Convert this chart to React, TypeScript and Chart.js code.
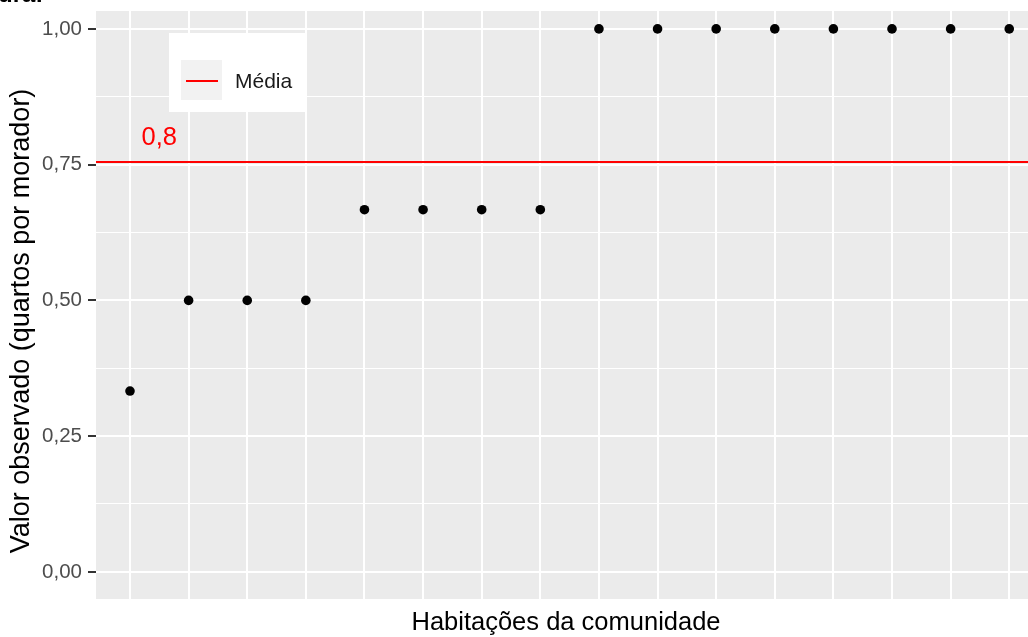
import React, { useEffect, useRef } from "react";
import { Chart, registerables } from "chart.js";

Chart.register(...registerables);

// ---- data ----
const houseIndex: number[] = [0, 1, 2, 3, 4, 5, 6, 7, 8, 9, 10, 11, 12, 13, 14, 15];
const observedValues: number[] = [
  0.333, 0.5, 0.5, 0.5, 0.667, 0.667, 0.667, 0.667, 1, 1, 1, 1, 1, 1, 1, 1,
];
const meanValue = 0.755;
const meanLabel = "0,8";
const meanLabelPos = { x: 0.5, y: 0.8 };
const yMajorTicks: number[] = [0, 0.25, 0.5, 0.75, 1];
const yAllTicks: number[] = [0, 0.125, 0.25, 0.375, 0.5, 0.625, 0.75, 0.875, 1];
const X_MIN = -0.58;
const X_MAX = 15.32;
const Y_MIN = -0.05;
const Y_MAX = 1.033;
const xTitle = "Habitações da comunidade";
const yTitle = "Valor observado (quartos por morador)";
const legendLabel = "Média";
const clippedHeading = "ura:";

const FONT = "'Liberation Sans', Arial, sans-serif";
const RED = "#ff0000";
const PANEL = "#ebebeb";

const isMajor = (v: number) => yMajorTicks.some((m) => Math.abs(m - v) < 1e-9);

const zeroPad = (s: any) => {
  s.paddingTop = 0;
  s.paddingBottom = 0;
  s.paddingLeft = 0;
  s.paddingRight = 0;
};

const decorPlugin = {
  id: "decor",
  beforeDraw(chart: any) {
    const { ctx, chartArea } = chart;
    ctx.save();
    ctx.fillStyle = "#ffffff";
    ctx.fillRect(0, 0, chart.width, chart.height);
    ctx.fillStyle = PANEL;
    ctx.fillRect(chartArea.left, chartArea.top, chartArea.right - chartArea.left, chartArea.bottom - chartArea.top);
    ctx.restore();
  },
  afterDatasetsDraw(chart: any) {
    const { ctx, scales } = chart;
    ctx.save();
    // mean label
    ctx.fillStyle = RED;
    ctx.font = `25.5px ${FONT}`;
    ctx.textAlign = "center";
    ctx.textBaseline = "middle";
    ctx.fillText(meanLabel, scales.x.getPixelForValue(meanLabelPos.x), scales.y.getPixelForValue(meanLabelPos.y));
    // legend box
    ctx.fillStyle = "#ffffff";
    ctx.fillRect(169, 33, 138, 79);
    ctx.fillStyle = "#f2f2f2";
    ctx.fillRect(181, 60, 41, 40);
    ctx.strokeStyle = RED;
    ctx.lineWidth = 2;
    ctx.beginPath();
    ctx.moveTo(186, 81);
    ctx.lineTo(218, 81);
    ctx.stroke();
    ctx.fillStyle = "#1a1a1a";
    ctx.font = `21px ${FONT}`;
    ctx.textAlign = "left";
    ctx.textBaseline = "middle";
    ctx.fillText(legendLabel, 235, 82);
    // axis titles
    ctx.fillStyle = "#000000";
    ctx.font = `25.5px ${FONT}`;
    ctx.textAlign = "center";
    ctx.textBaseline = "alphabetic";
    ctx.fillText(xTitle, 566, 630);
    ctx.save();
    ctx.translate(29, 321);
    ctx.rotate(-Math.PI / 2);
    ctx.font = `27px ${FONT}`;
    ctx.fillText(yTitle, 0, 0);
    ctx.restore();
    // clipped heading at top-left
    ctx.fillStyle = "#000000";
    ctx.font = `bold 24px ${FONT}`;
    ctx.textAlign = "left";
    ctx.textBaseline = "alphabetic";
    ctx.fillText(clippedHeading, -2, 1.5);
    ctx.restore();
  },
};

export default function App() {
  const ref = useRef<HTMLCanvasElement>(null);
  useEffect(() => {
    if (!ref.current) return;
    const chart = new Chart(ref.current, {
      type: "scatter",
      data: {
        datasets: [
          {
            type: "line",
            label: legendLabel,
            data: [
              { x: X_MIN, y: meanValue },
              { x: X_MAX, y: meanValue },
            ],
            borderColor: RED,
            borderWidth: 2,
            pointRadius: 0,
            order: 2,
          } as any,
          {
            type: "scatter",
            label: "obs",
            data: houseIndex.map((x, i) => ({ x, y: observedValues[i] })),
            backgroundColor: "#000000",
            borderColor: "#000000",
            pointRadius: 4.8,
            borderWidth: 0,
            order: 1,
          },
        ],
      },
      options: {
        responsive: false,
        animation: false,
        devicePixelRatio: 1,
        layout: { autoPadding: false, padding: { top: 11, right: 0, left: 0, bottom: 0 } },
        plugins: { legend: { display: false }, tooltip: { enabled: false } },
        scales: {
          x: {
            type: "linear",
            min: X_MIN,
            max: X_MAX,
            afterBuildTicks: (s: any) => {
              s.ticks = houseIndex.map((v) => ({ value: v }));
            },
            afterFit: (s: any) => {
              s.height = 38;
              zeroPad(s);
            },
            grid: { color: "#ffffff", lineWidth: 2, drawTicks: false },
            border: { display: false },
            ticks: { display: false },
            title: { display: false },
          },
          y: {
            type: "linear",
            min: Y_MIN,
            max: Y_MAX,
            afterBuildTicks: (s: any) => {
              s.ticks = yAllTicks.map((v) => ({ value: v }));
            },
            afterFit: (s: any) => {
              s.width = 96;
              zeroPad(s);
            },
            grid: {
              color: "#ffffff",
              lineWidth: (c: any) => (isMajor(c.tick?.value ?? 0) ? 2 : 1),
              tickColor: (c: any) => (isMajor(c.tick?.value ?? 0) ? "#333333" : "rgba(0,0,0,0)"),
              tickWidth: 2,
              tickLength: 8,
            },
            border: { display: false },
            ticks: {
              padding: 6,
              color: "#4d4d4d",
              font: { size: 20.5, family: FONT },
              callback: (v: any) => (isMajor(Number(v)) ? Number(v).toFixed(2).replace(".", ",") : ""),
            },
            title: { display: false },
          },
        },
      },
      plugins: [decorPlugin],
    });
    return () => chart.destroy();
  }, []);
  return (
    <div style={{ position: "fixed", left: 0, top: 0, width: 1028, height: 637 }}>
      <canvas ref={ref} width={1028} height={637} />
    </div>
  );
}
